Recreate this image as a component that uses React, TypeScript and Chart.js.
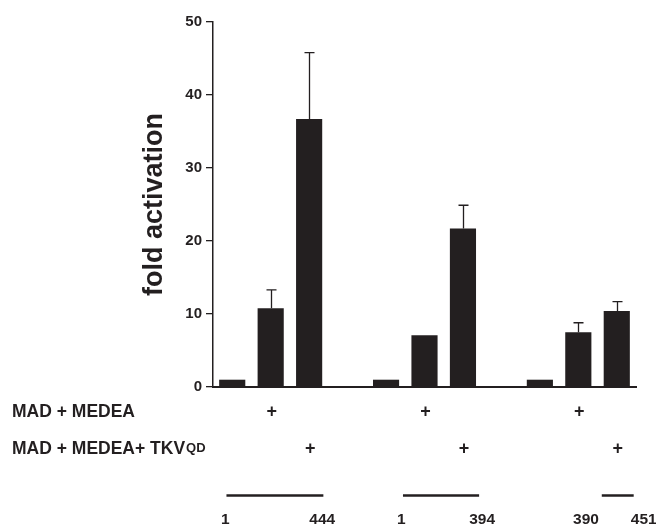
import React, { useEffect, useRef } from "react";
import { Chart, registerables } from "chart.js";

Chart.register(...registerables);

// 11 slots: three groups of three bars, separated by one empty slot each
const categories = ["g1-a", "g1-b", "g1-c", "", "g2-a", "g2-b", "g2-c", " ", "g3-a", "g3-b", "g3-c"];
const foldActivation: (number | null)[] = [1, 10.8, 36.7, null, 1, 7.1, 21.7, null, 1, 7.5, 10.4];
const errorTop: (number | null)[] = [null, 13.3, 45.8, null, null, null, 24.9, null, null, 8.8, 11.7];
const yTicks = [0, 10, 20, 30, 40, 50];

const rowLabels = ["MAD + MEDEA", "MAD + MEDEA+ TKV"];
const rowSuperscript = ["", "QD"];
const row1Plus = [1, 5, 9]; // slot indices marked "+"
const row2Plus = [2, 6, 10];
const constructStart = ["1", "1", "390"];
const constructEnd = ["444", "394", "451"];

const INK = "#231f20";
const FONT = "Liberation Sans, Arial, sans-serif";

const annotations = {
  id: "annotations",
  afterDatasetsDraw(chart: any) {
    const { ctx, scales } = chart;
    const x = scales.x;
    const y = scales.y;
    ctx.save();
    // error bars (upper only)
    ctx.strokeStyle = INK;
    ctx.lineWidth = 1.3;
    errorTop.forEach((e, i) => {
      const v = foldActivation[i];
      if (e == null || v == null) return;
      const cx = Math.round(x.getPixelForValue(i)) + 0.5;
      const yt = y.getPixelForValue(e);
      const yb = y.getPixelForValue(v);
      ctx.beginPath();
      ctx.moveTo(cx, yb);
      ctx.lineTo(cx, yt);
      ctx.moveTo(cx - 5, yt);
      ctx.lineTo(cx + 5, yt);
      ctx.stroke();
    });
    ctx.restore();
  },
  afterDraw(chart: any) {
    const { ctx, scales } = chart;
    const x = scales.x;
    const step = x.getPixelForValue(1) - x.getPixelForValue(0);
    ctx.save();
    ctx.fillStyle = INK;
    ctx.textBaseline = "middle";
    // row labels
    const rowY = [412, 449];
    ctx.textAlign = "left";
    rowLabels.forEach((t, r) => {
      ctx.font = `bold 17.5px ${FONT}`;
      ctx.fillText(t, 12, rowY[r]);
      if (rowSuperscript[r]) {
        const w = ctx.measureText(t).width;
        ctx.font = `bold 13px ${FONT}`;
        ctx.fillText(rowSuperscript[r], 12 + w + 1, rowY[r] - 0.5);
      }
    });
    // plus signs
    ctx.font = `bold 18px ${FONT}`;
    ctx.textAlign = "center";
    row1Plus.forEach((i) => ctx.fillText("+", x.getPixelForValue(i) + 1, rowY[0]));
    row2Plus.forEach((i) => ctx.fillText("+", x.getPixelForValue(i) + 1, rowY[1]));
    // construct lines (in slot units relative to the category scale)
    const segs = [
      [-0.15, 2.37],
      [4.44, 6.42],
      [9.61, 10.44],
    ];
    const labelPos = [
      [-0.18, 2.34],
      [4.4, 6.5],
      [9.2, 10.7],
    ];
    ctx.strokeStyle = INK;
    ctx.lineWidth = 2.5;
    const lineY = 495.5;
    segs.forEach(([a, b]) => {
      ctx.beginPath();
      ctx.moveTo(x.getPixelForValue(0) + a * step, lineY);
      ctx.lineTo(x.getPixelForValue(0) + b * step, lineY);
      ctx.stroke();
    });
    ctx.font = `bold 15.5px ${FONT}`;
    labelPos.forEach(([a, b], k) => {
      ctx.fillText(constructStart[k], x.getPixelForValue(0) + a * step, 519.5);
      ctx.fillText(constructEnd[k], x.getPixelForValue(0) + b * step, 519.5);
    });
    ctx.restore();
  },
};

export default function App() {
  const ref = useRef<HTMLCanvasElement | null>(null);
  useEffect(() => {
    if (!ref.current) return;
    const chart = new Chart(ref.current, {
      type: "bar",
      data: {
        labels: categories,
        datasets: [
          {
            data: foldActivation,
            backgroundColor: INK,
            borderWidth: 0,
            barPercentage: 0.68,
            categoryPercentage: 1,
          },
        ],
      },
      options: {
        animation: false,
        responsive: false,
        maintainAspectRatio: false,
        layout: { padding: { left: 0, top: 22, right: 20, bottom: 138 } },
        plugins: { legend: { display: false }, tooltip: { enabled: false } },
        scales: {
          x: {
            type: "category",
            offset: true,
            grid: { display: false, drawTicks: false },
            border: { display: true, color: INK, width: 2 },
            ticks: { display: false },
            afterFit: (s: any) => {
              s.height = 0;
            },
          },
          y: {
            min: 0,
            max: 50,
            afterBuildTicks: (s: any) => {
              s.ticks = yTicks.map((v) => ({ value: v }));
            },
            grid: {
              display: true,
              drawOnChartArea: false,
              drawTicks: true,
              tickLength: 7,
              color: INK,
              lineWidth: 1.3,
            },
            border: { display: true, color: INK, width: 1.5 },
            ticks: {
              color: INK,
              padding: 4,
              font: { family: FONT, size: 15, weight: "bold" },
            },
            title: {
              display: true,
              text: "fold activation",
              color: INK,
              font: { family: FONT, size: 27, weight: "bold" },
              padding: { top: 138, bottom: 0 },
            },
            afterFit: (s: any) => {
              s.width = 213;
            },
          },
        },
      },
      plugins: [annotations],
    });
    return () => chart.destroy();
  }, []);
  return (
    <div style={{ position: "fixed", left: 0, top: 0, width: 656, height: 525, background: "#fff" }}>
      <canvas ref={ref} width={656} height={525} style={{ width: 656, height: 525, display: "block" }} />
    </div>
  );
}
